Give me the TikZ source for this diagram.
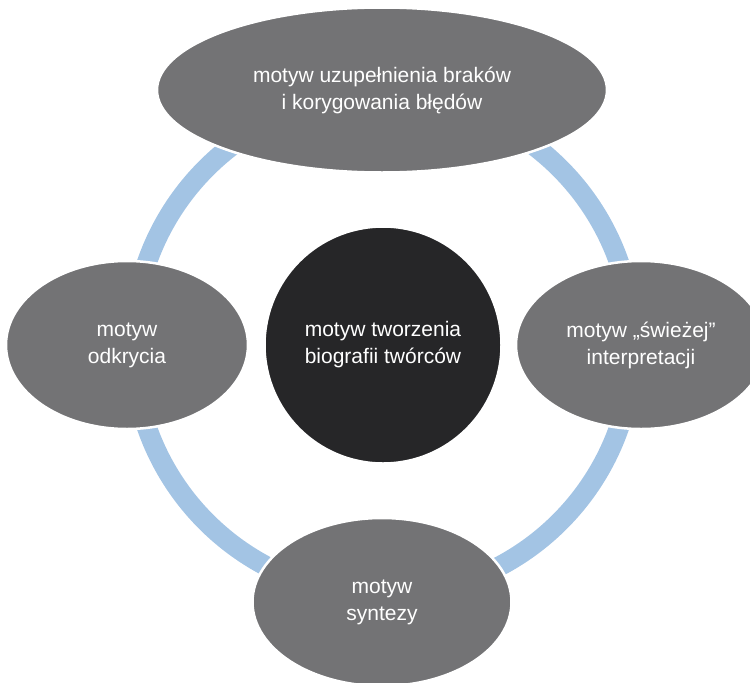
\documentclass[tikz,border=0pt]{standalone}
\usepackage{fontspec}
\setmainfont{Liberation Sans}
\usetikzlibrary{shapes.geometric}
\definecolor{mtGray}{HTML}{737375}
\definecolor{mtDark}{HTML}{262628}
\definecolor{mtBlue}{HTML}{A3C4E4}
\begin{document}
\begin{tikzpicture}[
  x=1pt, y=-1pt,
  every node/.style={font=\fontsize{21}{27}\selectfont, align=center, text=white},
  motive/.style={
    ellipse, fill=mtGray, draw=white, line width=2.5pt, inner sep=0pt
  },
  core/.style={
    circle, fill=mtDark, draw=white, line width=2.5pt, inner sep=0pt,
    minimum size=237pt
  },
  ring/.style={draw=mtBlue, line width=20pt}
]
 \useasboundingbox (0,0) rectangle (750,683);
 \clip (0,0) rectangle (750,683);

 % Ring behind the motives
 \coordinate (hub) at (383,345);
 \draw[ring] (hub) circle[radius=250];

 % Centre
 \node[core] (tworzenie) at (383,345) {motyw tworzenia\\biografii twórców};

 % Four motives round the ring
 \node[motive, minimum width=450pt, minimum height=165pt] (braki) at (382,90)
  {motyw uzupełnienia braków\\i korygowania błędów};
 \node[motive, minimum width=242pt, minimum height=168pt] (odkrycie) at (127,345)
  {motyw\\odkrycia};
 \node[motive, minimum width=250pt, minimum height=168pt] (interpretacja) at (641,345)
  {motyw „świeżej”\\interpretacji};
 \node[motive, minimum width=259pt, minimum height=168pt] (synteza) at (382,602)
  {motyw\\syntezy};
\end{tikzpicture}
\end{document}
